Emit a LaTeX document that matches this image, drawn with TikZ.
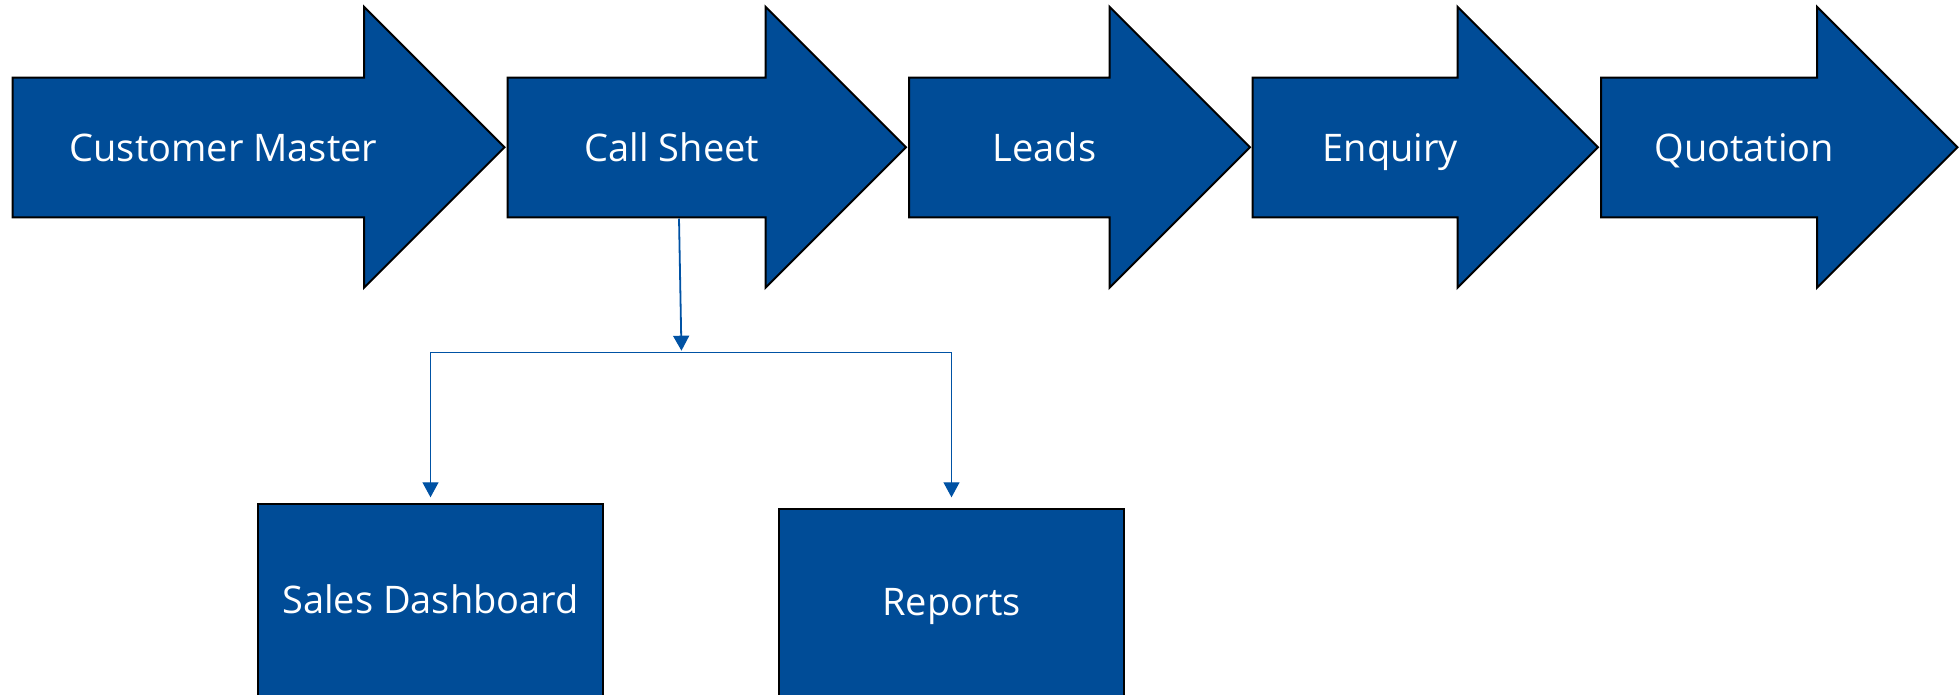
\documentclass[tikz,border=0pt]{standalone}
\usepackage{fontspec}
\setmainfont{Open Sans}
\usetikzlibrary{arrows.meta}
\definecolor{fillblue}{RGB}{0,76,151}
\definecolor{lineblue}{RGB}{0,82,164}
\begin{document}
\begin{tikzpicture}[x=1pt,y=-1pt,
  stage/.style={draw=black,line width=2pt,fill=fillblue,line join=miter},
  lbl/.style={text=white,font=\fontsize{38}{40}\selectfont,anchor=base,inner sep=0pt},
  card/.style={draw=black,line width=2pt,fill=fillblue,anchor=north,minimum width=345pt,minimum height=192pt,inner sep=0pt},
  conn/.style={draw=lineblue,line width=1.2pt},
  tipend/.style={-{Triangle[width=16pt,length=15pt]}},
  tipboth/.style={{Triangle[width=16pt,length=15pt]}-{Triangle[width=16pt,length=15pt]}}
]
\useasboundingbox (0,0) rectangle (1960,694);
\clip (0,0) rectangle (1960,694);
\foreach \l/\h/\n/\t in {12.5/364/cm/Customer Master, 507.7/765.5/cs/Call Sheet, 909/1109.5/ld/Leads, 1252.6/1457.5/en/Enquiry, 1601/1817/qt/Quotation} {
  \draw[stage] (\l,77.7) -- (\h,77.7) -- (\h,6.8) -- ({\h+140.5},147.3) -- (\h,287.8) -- (\h,217.3) -- (\l,217.3) -- cycle;
  \node[lbl] (\n) at ({(\l+\h+70.5)/2},161.5) {\t};
}
\node[card] (sd) at (430.5,503.3) {};
\node[card] (rp) at (951.5,508.3) {};
\node[lbl] (sdt) at (430.5,613) {Sales Dashboard};
\node[lbl] (rpt) at (951.5,615) {Reports};
\coordinate (csfoot) at (679,218.5);
\coordinate (hub) at (681.5,352.7);
\coordinate (bl) at (430.5,352.7);
\coordinate (br) at (951.5,352.7);
\draw[conn,line width=1.8pt,tipend,shorten >=2pt] (csfoot) -- (hub);
\draw[conn,tipboth,shorten <=6pt,shorten >=11pt] (sd.north) -- (bl) -- (br) -- (rp.north);
\end{tikzpicture}
\end{document}
